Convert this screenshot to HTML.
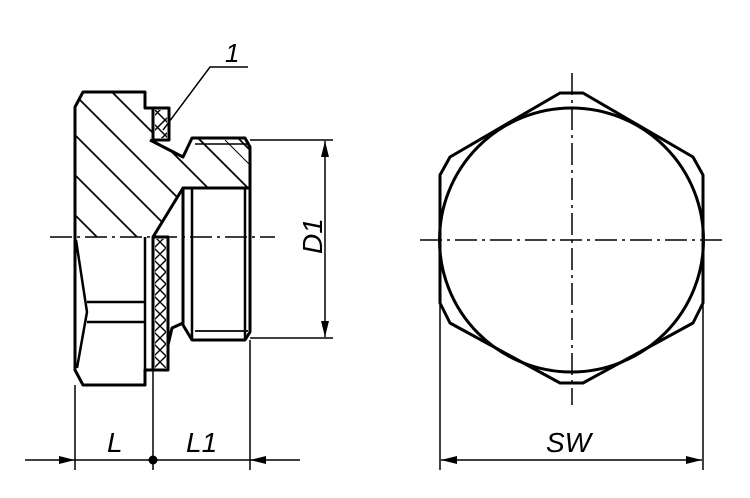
<!DOCTYPE html>
<html><head><meta charset="utf-8"><style>
html,body{margin:0;padding:0;background:#fff;}
svg{display:block}
text{font-family:"Liberation Sans",sans-serif;font-style:italic;fill:#000}
</style></head><body>
<svg width="750" height="498" viewBox="0 0 750 498" xmlns="http://www.w3.org/2000/svg">
<defs>
<clipPath id="hc"><polygon points="75,107 83,92 145,92 145,108 153,108 153,140 183,157 192,138 245,138 250,147 250,188 183,188 153,237 75,237"/></clipPath>
<clipPath id="oc"><rect x="155" y="110" width="12" height="28"/></clipPath>
<clipPath id="kc"><rect x="155" y="239" width="11" height="129"/></clipPath>
<marker id="a" viewBox="0 0 16 8" refX="16" refY="4" markerWidth="16" markerHeight="8" markerUnits="userSpaceOnUse" orient="auto"><path d="M0,0L16,4L0,8z" fill="#000"/></marker>
</defs>
<g clip-path="url(#hc)" stroke="#000" stroke-width="1.8">
<line x1="40" y1="60" x2="240" y2="260"/><line x1="20" y1="80" x2="220" y2="280"/><line x1="0" y1="100" x2="200" y2="300"/>
<line x1="60" y1="40" x2="260" y2="240"/><line x1="80" y1="20" x2="280" y2="220"/><line x1="100" y1="0" x2="300" y2="200"/>
<line x1="120" y1="-20" x2="320" y2="180"/><line x1="140" y1="-40" x2="340" y2="160"/><line x1="160" y1="-60" x2="360" y2="140"/>
<line x1="-20" y1="120" x2="180" y2="320"/><line x1="-40" y1="140" x2="160" y2="340"/>
<line x1="200" y1="140" x2="250" y2="190" stroke-width="1"/><line x1="225" y1="140" x2="250" y2="165" stroke-width="1"/>
</g>
<g fill="none" stroke="#000" stroke-width="3" stroke-linejoin="round">
<polyline points="75,237 75,107 83,92 145,92 145,108 153,108"/>
<polyline points="150,140 183,157 192,138 245,138 250,147 250,332 245,340 192,340 183,325 183,188 250,188"/>
<polyline points="183,188 153,237"/>
<rect x="153" y="108" width="16" height="32"/>
<polyline points="75,237 75,370 83,385 145,385 145,370 153,370"/>
<polyline points="76,240 87,312 77,368" stroke-width="2.5"/>
<line x1="87" y1="302" x2="145" y2="302" stroke-width="2.5"/>
<line x1="87" y1="322" x2="145" y2="322" stroke-width="2.5"/>
<line x1="145" y1="237" x2="145" y2="370" stroke-width="2.5"/>
<rect x="153" y="237" width="15" height="133"/>
<polyline points="168,345 172,328 183,323"/>
<line x1="192" y1="188" x2="192" y2="340" stroke-width="2.5"/>
<line x1="245" y1="188" x2="245" y2="340" stroke-width="2.5"/>
<line x1="195" y1="331" x2="248" y2="331" stroke-width="1.8"/>
<line x1="195" y1="144" x2="248" y2="144" stroke-width="1.5"/>
</g>
<g clip-path="url(#oc)" stroke="#000" stroke-width="1.5">
<line x1="150" y1="120" x2="170" y2="100"/><line x1="150" y1="135" x2="170" y2="115"/><line x1="150" y1="150" x2="170" y2="130"/>
<line x1="150" y1="105" x2="175" y2="130"/><line x1="150" y1="120" x2="175" y2="145"/>
</g>
<g clip-path="url(#kc)" stroke="#000" stroke-width="1.4">
<path d="M150,240 l20,-20 M150,252 l20,-20 M150,264 l20,-20 M150,276 l20,-20 M150,288 l20,-20 M150,300 l20,-20 M150,312 l20,-20 M150,324 l20,-20 M150,336 l20,-20 M150,348 l20,-20 M150,360 l20,-20 M150,372 l20,-20 M150,384 l20,-20
M150,220 l20,20 M150,232 l20,20 M150,244 l20,20 M150,256 l20,20 M150,268 l20,20 M150,280 l20,20 M150,292 l20,20 M150,304 l20,20 M150,316 l20,20 M150,328 l20,20 M150,340 l20,20 M150,352 l20,20 M150,364 l20,20"/>
</g>
<g stroke="#000" stroke-width="1.5" fill="none">
<line x1="50" y1="237" x2="275" y2="237" stroke-dasharray="22,5,3,5"/>
<polyline points="163,130 210,67 248,67"/>
<line x1="250" y1="140" x2="333" y2="140"/><line x1="250" y1="338" x2="333" y2="338"/>
<line x1="325" y1="165" x2="325" y2="141" marker-end="url(#a)"/>
<line x1="325" y1="165" x2="325" y2="313"/>
<line x1="325" y1="313" x2="325" y2="337" marker-end="url(#a)"/>
<line x1="75" y1="385" x2="75" y2="470"/><line x1="153" y1="370" x2="153" y2="470"/><line x1="250" y1="340" x2="250" y2="470"/>
<line x1="25" y1="460" x2="75" y2="460" marker-end="url(#a)"/>
<line x1="75" y1="460" x2="250" y2="460"/>
<line x1="300" y1="460" x2="250" y2="460" marker-end="url(#a)"/>
</g>
<circle cx="153" cy="460" r="4.5" fill="#000"/>
<text x="225" y="62" font-size="26">1</text>
<text x="107" y="452" font-size="28">L</text>
<text x="186" y="452" font-size="28">L1</text>
<text transform="translate(322,254) rotate(-90)" font-size="28">D1</text>
<g fill="none" stroke="#000" stroke-width="3" stroke-linejoin="round">
<polygon points="560,93 583,93 693,157 703,175 703,303 693,323 583,383 560,383 450,323 440,303 440,175 450,157"/>
<circle cx="571.5" cy="240" r="132"/>
</g>
<g stroke="#000" stroke-width="1.5" fill="none">
<line x1="420" y1="240" x2="726" y2="240" stroke-dasharray="22,5,3,5"/>
<line x1="572" y1="73" x2="572" y2="405" stroke-dasharray="22,5,3,5"/>
<line x1="440" y1="305" x2="440" y2="470"/><line x1="703" y1="305" x2="703" y2="470"/>
<line x1="572" y1="460" x2="441" y2="460" marker-end="url(#a)"/>
<line x1="572" y1="460" x2="702" y2="460" marker-end="url(#a)"/>
</g>
<text x="546" y="452" font-size="28">SW</text>
</svg>
</body></html>
